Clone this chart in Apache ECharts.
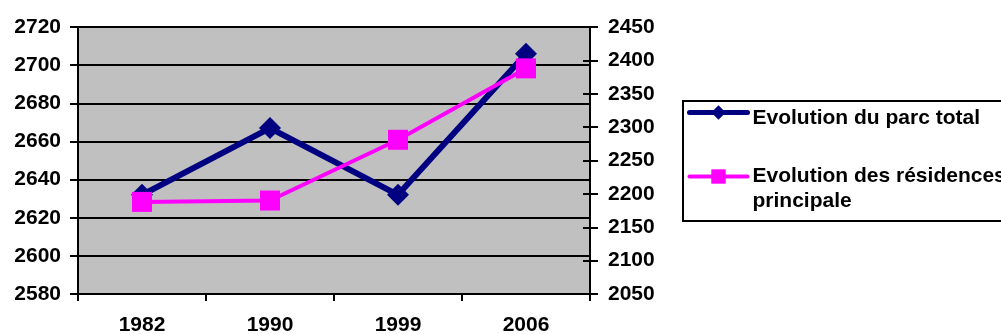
<!DOCTYPE html>
<html>
<head>
<meta charset="utf-8">
<script src="https://cdn.jsdelivr.net/npm/echarts@6/dist/echarts.min.js"></script>
<style>
  html, body { margin: 0; padding: 0; background: #fff; }
  #chart { width: 1001px; height: 334px; }
</style>
</head>
<body>
<div id="chart"></div>
<script>
// Census years on the category axis
const years = ['1982', '1990', '1999', '2006'];

// Total housing stock (left axis)
const parcTotal = [2632, 2667, 2632, 2706];

// Main residences (right axis)
const residencesPrincipales = [2188, 2190, 2281, 2388];

const seriesNames = ['Evolution du parc total', 'Evolution des résidences\nprincipale'];

// Axis ranges and steps
const leftAxis = { min: 2580, max: 2720, step: 20 };
const rightAxis = { min: 2050, max: 2450, step: 50 };

const FONT = '"Liberation Sans", Arial, sans-serif';
const NAVY = '#000080';
const MAGENTA = '#FF00FF';

const chart = echarts.init(document.getElementById('chart'), null, { renderer: 'canvas' });

const plainNumber = v => String(v);
const labelStyle = { color: '#000', fontFamily: FONT, fontWeight: 'bold', fontSize: 21 };

chart.setOption({
  animation: false,
  backgroundColor: '#fff',
  grid: {
    left: 78, top: 27, right: 411, bottom: 40,
    outerBoundsMode: 'none',
    show: true, backgroundColor: '#C0C0C0', borderWidth: 0
  },
  legend: {
    orient: 'vertical',
    left: 683, top: 101,
    padding: [-4.5, 40, 7, 4],
    borderColor: '#000', borderWidth: 2,
    itemWidth: 58, itemHeight: 18, itemGap: 10.5,
    // a leading blank line lowers the first text line relative to the icon
    formatter: name => '\n' + name,
    textStyle: { color: '#000', fontFamily: FONT, fontWeight: 'bold', fontSize: 21 },
    data: [
      {
        name: seriesNames[0],
        textStyle: { lineHeight: 11 },
        lineStyle: { width: 5, cap: 'round' }
      },
      {
        name: seriesNames[1],
        textStyle: { lineHeight: 25 },
        lineStyle: { width: 4, cap: 'round' }
      }
    ]
  },
  xAxis: {
    type: 'category',
    data: years,
    boundaryGap: true,
    axisLine: { lineStyle: { color: '#000', width: 2 } },
    axisTick: { show: true, length: 7, lineStyle: { color: '#000', width: 2 } },
    axisLabel: Object.assign({ margin: 21 }, labelStyle),
    splitLine: { show: false }
  },
  yAxis: [
    {
      type: 'value', position: 'left',
      min: leftAxis.min, max: leftAxis.max, interval: leftAxis.step,
      axisLine: { show: true, lineStyle: { color: '#000', width: 2 } },
      axisTick: { show: true, length: 8, lineStyle: { color: '#000', width: 2 } },
      axisLabel: Object.assign({ margin: 17, formatter: plainNumber }, labelStyle),
      splitLine: { show: true, lineStyle: { color: '#000', width: 2 } }
    },
    {
      type: 'value', position: 'right',
      min: rightAxis.min, max: rightAxis.max, interval: rightAxis.step,
      axisLine: { show: true, lineStyle: { color: '#000', width: 2 } },
      axisTick: { show: true, length: 8, lineStyle: { color: '#000', width: 2 } },
      axisLabel: Object.assign({ margin: 18, formatter: plainNumber }, labelStyle),
      splitLine: { show: false }
    },
    {
      // inner half of the crossing tick marks on the right axis
      type: 'value', position: 'right',
      min: rightAxis.min, max: rightAxis.max, interval: rightAxis.step,
      axisLine: { show: false },
      axisTick: { show: true, inside: true, length: 7, lineStyle: { color: '#000', width: 2 } },
      axisLabel: { show: false },
      splitLine: { show: false }
    }
  ],
  series: [
    {
      name: seriesNames[0],
      type: 'line',
      yAxisIndex: 0,
      data: parcTotal,
      symbol: 'diamond',
      symbolSize: 22,
      lineStyle: { color: NAVY, width: 6 },
      itemStyle: { color: NAVY, borderWidth: 0 }
    },
    {
      name: seriesNames[1],
      type: 'line',
      yAxisIndex: 1,
      data: residencesPrincipales,
      symbol: 'rect',
      symbolSize: 20,
      lineStyle: { color: MAGENTA, width: 4 },
      itemStyle: { color: MAGENTA, borderWidth: 0 }
    }
  ]
});
</script>
</body>
</html>
